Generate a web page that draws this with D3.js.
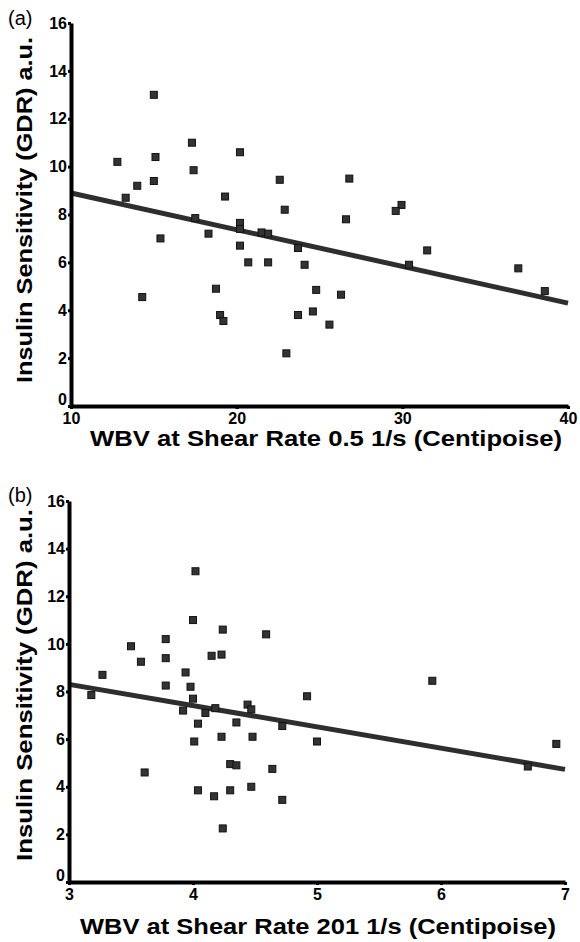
<!DOCTYPE html>
<html>
<head>
<meta charset="utf-8">
<script src="https://cdn.jsdelivr.net/npm/d3@7"></script>
<style>
  body { margin: 0; background: #fff; }
  svg { display: block; }
  text { font-family: "Liberation Sans", Arial, Helvetica, sans-serif; fill: #000; }
</style>
</head>
<body>
<svg id="chart" width="580" height="942"></svg>
<script>
// --- Panel (a): WBV at shear rate 0.5 1/s ---
const xA = [15.0, 17.3, 20.2, 12.8, 15.1, 17.4, 22.6, 14.0, 15.0, 13.3,
            19.3, 22.9, 17.5, 20.2, 20.2, 15.4, 18.3, 21.5, 21.9, 20.2,
            23.7, 20.7, 21.9, 24.1, 18.75, 14.3, 24.8, 19.0, 19.2, 23.7,
            24.6, 25.6, 23.0, 26.8, 29.95, 29.6, 26.6, 31.5, 30.4, 37.0,
            38.6, 26.3];
const yA = [13.0, 11.0, 10.6, 10.2, 10.4, 9.85, 9.45, 9.2, 9.4, 8.7,
            8.75, 8.2, 7.85, 7.65, 7.4, 7.0, 7.2, 7.25, 7.2, 6.7,
            6.6, 6.0, 6.0, 5.9, 4.9, 4.55, 4.85, 3.8, 3.55, 3.8,
            3.95, 3.4, 2.2, 9.5, 8.4, 8.15, 7.8, 6.5, 5.9, 5.75,
            4.8, 4.65];
const fitA = [[10, 8.9], [40, 4.3]];
const xTicksA = [10, 20, 30, 40];

// --- Panel (b): WBV at shear rate 201 1/s ---
const xB = [4.02, 4.0, 4.24, 4.59, 3.78, 3.5, 3.58, 3.78, 4.15, 4.23,
            3.27, 3.94, 3.78, 3.98, 3.18, 4.0, 3.92, 4.1, 4.18, 4.44,
            4.47, 4.92, 4.04, 4.35, 4.72, 4.01, 4.23, 4.48, 5.0, 3.61,
            4.3, 4.35, 4.64, 4.04, 4.17, 4.3, 4.47, 4.72, 4.24, 5.93,
            6.93, 6.7];
const yB = [13.05, 11.0, 10.6, 10.4, 10.2, 9.9, 9.25, 9.4, 9.5, 9.55,
            8.7, 8.8, 8.25, 8.2, 7.85, 7.7, 7.2, 7.1, 7.3, 7.45,
            7.25, 7.8, 6.65, 6.7, 6.55, 5.9, 6.1, 6.1, 5.9, 4.6,
            4.95, 4.9, 4.75, 3.85, 3.6, 3.85, 4.0, 3.45, 2.25, 8.45,
            5.8, 4.85];
const fitB = [[3, 8.3], [7, 4.73]];
const xTicksB = [3, 4, 5, 6, 7];

const yTicks = [0, 2, 4, 6, 8, 10, 12, 14, 16];
const yTitle = "Insulin Sensitivity (GDR) a.u.";

const svg = d3.select("#chart");

function drawPanel(p) {
  const x = d3.scaleLinear().domain(p.xDomain).range([p.left, p.right]);
  const y = d3.scaleLinear().domain([0, 16]).range([p.bottom, p.top]);
  const g = svg.append("g");

  // regression line
  g.append("line")
    .attr("x1", x(p.fit[0][0])).attr("y1", y(p.fit[0][1]))
    .attr("x2", x(p.fit[1][0])).attr("y2", y(p.fit[1][1]))
    .attr("stroke", "#2e2e2e")
    .attr("stroke-width", 5);

  // points
  const pts = p.xs.map((v, i) => ({ x: v, y: p.ys[i] }));
  g.selectAll("rect.pt")
    .data(pts)
    .enter()
    .append("rect")
    .attr("class", "pt")
    .attr("x", d => x(d.x) - 3.5)
    .attr("y", d => y(d.y) - 3.5)
    .attr("width", 7)
    .attr("height", 7)
    .attr("fill", "#333")
    .attr("stroke", "#111")
    .attr("stroke-width", 1);

  // axes
  const fmt = d3.format("d");
  const yAxis = g.append("g")
    .attr("transform", `translate(${p.left},0)`)
    .call(d3.axisLeft(y).tickValues(yTicks).tickFormat(fmt).tickSize(3).tickPadding(1).tickSizeOuter(0));
  const xAxis = g.append("g")
    .attr("transform", `translate(0,${p.bottom})`)
    .call(d3.axisBottom(x).tickValues(p.xTicks).tickFormat(fmt).tickSize(3).tickPadding(4).tickSizeOuter(0));

  [yAxis, xAxis].forEach(a => {
    a.select(".domain").attr("stroke", "#000").attr("stroke-width", 4);
    a.selectAll(".tick line").attr("stroke", "#000").attr("stroke-width", 3);
    a.selectAll(".tick text")
      .style("font-size", "16px")
      .style("font-weight", "bold")
      .attr("fill", "#000");
  });
  // lift the "0" label off the corner, as in the original
  yAxis.selectAll(".tick text").filter(d => d === 0).attr("dy", "-0.1em");

  // titles
  g.append("text")
    .attr("x", p.xTitleC)
    .attr("y", p.xTitleY)
    .attr("text-anchor", "middle")
    .attr("textLength", p.xTitleLen)
    .attr("lengthAdjust", "spacingAndGlyphs")
    .style("font-size", "22px")
    .style("font-weight", "bold")
    .text(p.xTitle);

  g.append("text")
    .attr("transform", `translate(32,${p.yTitleC}) rotate(-90)`)
    .attr("text-anchor", "middle")
    .attr("textLength", p.yTitleLen)
    .attr("lengthAdjust", "spacingAndGlyphs")
    .style("font-size", "22px")
    .style("font-weight", "bold")
    .text(yTitle);

  g.append("text")
    .attr("x", 8)
    .attr("y", p.tagY)
    .style("font-size", "20px")
    .text(p.tag);
}

drawPanel({
  xs: xA, ys: yA, fit: fitA, xDomain: [10, 40], xTicks: xTicksA,
  left: 71, right: 568, top: 23, bottom: 406,
  xTitle: "WBV at Shear Rate 0.5 1/s (Centipoise)", xTitleY: 446, xTitleC: 326, xTitleLen: 472,
  yTitleC: 210, yTitleLen: 346, tag: "(a)", tagY: 25
});

drawPanel({
  xs: xB, ys: yB, fit: fitB, xDomain: [3, 7], xTicks: xTicksB,
  left: 69, right: 565, top: 501, bottom: 882,
  xTitle: "WBV at Shear Rate 201 1/s (Centipoise)", xTitleY: 934, xTitleC: 318, xTitleLen: 476,
  yTitleC: 685, yTitleLen: 352, tag: "(b)", tagY: 502
});
</script>
</body>
</html>
